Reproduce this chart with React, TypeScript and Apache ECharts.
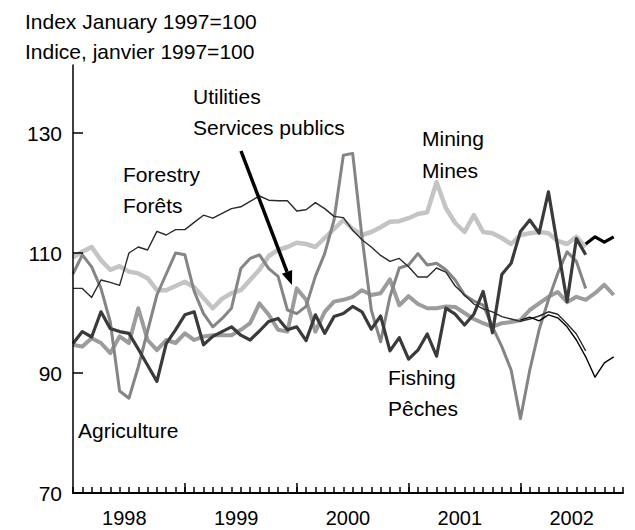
import React, { useEffect, useRef } from "react";
import * as echarts from "echarts";

// Categories: monthly, January 1998 to December 2002
const years = ["1998", "1999", "2000", "2001", "2002"];
const monthNames = ["Jan", "Feb", "Mar", "Apr", "May", "Jun", "Jul", "Aug", "Sep", "Oct", "Nov", "Dec"];
const months: string[] = [];
for (const y of years) for (const m of monthNames) months.push(m + " " + y);

// Y tick labels
const yTicks = [70, 90, 110, 130];

// Series values (Index January 1997 = 100)
const mining = [109.3, 110.2, 111, 108.8, 107.2, 107.8, 106.9, 106.6, 105.8, 103.8,
  103.8, 104.5, 105.2, 104.3, 102.5, 100.8, 102.4, 103.3, 103.8, 105.5,
  107.2, 109.5, 110.5, 111, 111.7, 111.5, 111, 112.5, 114, 115.5,
  114, 113, 113.5, 114.3, 115.2, 115.3, 115.8, 116.5, 116.8, 121.8,
  117.5, 115, 113.5, 116.3, 113.5, 113.3, 112.5, 111.5, 113, 113.3,
  113.5, 113.3, 112, 111.5, 112.7, 111];

const agriculture = [94.7, 94.4, 95.8, 95, 93.3, 96.1, 95, 100.8, 95.5, 93.8,
  95.5, 95, 96.6, 95.5, 96.1, 96.3, 96.3, 96.3, 97.2, 98.3,
  101.6, 99.7, 97.2, 96.9, 104.1, 102.2, 96.9, 100.2, 101.9, 102.2,
  102.7, 103.8, 103, 103.3, 105.6, 101.3, 102.8, 101.5, 100.8, 100.8,
  101.1, 101, 100, 99, 98.3, 97.7, 98.3, 98.5, 98.8, 100.5,
  101.6, 102.7, 103.5, 101.8, 102.7, 102.2, 103.3, 104.7, 103];

const fishing = [106.5, 109.7, 107.7, 104.1, 98.5, 87, 85.8, 91, 97, 103,
  106.5, 110, 109.7, 103.6, 99.9, 97.7, 99.1, 100.8, 107.4, 109.1,
  109.7, 107.4, 106.1, 100.5, 99.9, 101.1, 106.1, 109.9, 115.5, 126.3,
  126.6, 112.7, 100.5, 95.2, 102.7, 107.5, 108, 109.9, 108, 108.3,
  107.2, 105.5, 103, 102, 101.3, 97.7, 94.4, 90.5, 82.4, 90.5,
  97.2, 102.2, 106.6, 110.2, 108.6, 104.1];

const utilities = [94.9, 96.9, 96, 100.2, 97.4, 96.9, 96.6, 94, 91.3, 88.6,
  94.9, 97.2, 99.7, 100.2, 94.7, 96.1, 96.9, 97.7, 96.3, 95.5,
  97, 98.6, 99.1, 97.2, 97.7, 95.4, 99.7, 96.6, 99.4, 99.9,
  101.1, 100.2, 97.3, 99.5, 93.7, 95.9, 92.3, 93.8, 96.5, 92.8,
  100.8, 99.8, 98, 99.8, 103.6, 96.7, 106.4, 108.3, 113.6, 115.5,
  113.3, 120.2, 111, 101.9, 112.4, 109.7];

const forestry = [104.1, 104.1, 102.6, 105.5, 105.1, 104.6, 110, 111, 110.5, 113.6,
  113, 113.9, 113.9, 115.1, 116.3, 115.8, 116.6, 117.4, 117.7, 118.6,
  119.5, 118.8, 118.7, 118.7, 117, 117.2, 118.4, 117.4, 116.1, 115.9,
  113.8, 112.2, 111, 109.6, 108.6, 109.1, 107.7, 106, 106, 107.5,
  106.8, 104.5, 103, 101.5, 100.7, 100.2, 99.4, 99, 98.6, 99,
  99.5, 100.2, 99.8, 98.2, 96.5, 93.7];

// Latest segments drawn in black
const forestryLatestStart = 48;
const forestryLatest = [98.8, 99.3, 98.7, 99.7, 99.2, 97.7, 95.5, 92.7, 89.3, 91.7, 92.7];
const utilitiesLatestStart = 55;
const utilitiesLatest = [111.5, 112.7, 111.8, 112.7];

function pad(start: number, vals: number[]): (number | null)[] {
  const out: (number | null)[] = [];
  for (let i = 0; i < months.length; i++) {
    const k = i - start;
    out.push(k >= 0 && k < vals.length ? vals[k] : null);
  }
  return out;
}

const FONT = '"Liberation Sans", Arial, Helvetica, sans-serif';

export default function App() {
  const ref = useRef<HTMLDivElement>(null);
  useEffect(() => {
    if (!ref.current) return;
    const chart = echarts.init(ref.current, undefined, { renderer: "svg" });
    const line = (name: string, data: (number | null)[], color: string, width: number, z: number) => ({
      name,
      type: "line",
      xAxisIndex: 0,
      data,
      symbol: "none",
      connectNulls: false,
      z,
      lineStyle: { color, width, join: "round" },
      emphasis: { disabled: true },
    });
    const yearCenters = years.map((_, i) => i * 12 + 5.5);
    const yearStarts = years.slice(1).map((_, i) => (i + 1) * 12);
    const txt = (text: string, x: number, y: number) => ({
      type: "text",
      x,
      y,
      z: 100,
      style: { text, fill: "#000", font: `21px ${FONT}`, align: "left", verticalAlign: "middle" },
    });
    // arrow geometry (annotation)
    const tip = [292, 285];
    const start = [241, 151];
    const dx = tip[0] - start[0], dy = tip[1] - start[1];
    const len = Math.sqrt(dx * dx + dy * dy);
    const ux = dx / len, uy = dy / len;
    const base = [tip[0] - 14 * ux, tip[1] - 14 * uy];
    const px = -uy * 5.5, py = ux * 5.5;

    chart.setOption({
      animation: false,
      backgroundColor: "#fff",
      grid: { left: 73, right: 12, top: 65, bottom: 37, containLabel: false, outerBoundsMode: "none" },
      xAxis: [
        {
          type: "category",
          data: months,
          boundaryGap: false,
          z: 10,
          axisLine: { lineStyle: { color: "#000", width: 2 } },
          axisTick: { show: true, interval: 0, inside: true, length: 6, lineStyle: { color: "#000", width: 1.5 } },
          axisLabel: { show: false },
          splitLine: { show: false },
        },
        {
          type: "value",
          min: 0,
          max: months.length - 1,
          position: "bottom",
          z: 11,
          axisLine: { show: false },
          splitLine: { show: false },
          axisTick: { show: true, inside: true, length: 10, customValues: yearStarts, lineStyle: { color: "#000", width: 1.5 } },
          axisLabel: {
            show: true,
            customValues: yearCenters,
            margin: 17,
            lineHeight: 16,
            color: "#000",
            fontSize: 20,
            fontFamily: FONT,
            formatter: (v: number) => years[Math.floor(v / 12)] ?? "",
          },
        },
      ],
      yAxis: {
        type: "value",
        min: 70,
        max: 70 + 428 / 6,
        z: 10,
        axisLine: { show: true, lineStyle: { color: "#000", width: 1.5 } },
        axisTick: { show: true, inside: true, length: 10, customValues: [90, 110, 130], lineStyle: { color: "#000", width: 1.5 } },
        axisLabel: { customValues: yTicks, margin: 11, color: "#000", fontSize: 21, fontFamily: FONT },
        splitLine: { show: false },
      },
      series: [
        line("Mining", mining, "#c4c4c4", 4.5, 1),
        line("Agriculture", agriculture, "#9c9c9c", 4, 2),
        line("Fishing", fishing, "#858585", 3, 3),
        line("Utilities", utilities, "#3a3a3a", 3.2, 4),
        line("Forestry", forestry, "#2a2a2a", 1.4, 5),
        line("Forestry latest", pad(forestryLatestStart, forestryLatest), "#000", 1.4, 6),
        line("Utilities latest", pad(utilitiesLatestStart, utilitiesLatest), "#000", 3.2, 6),
      ],
      graphic: [
        txt("Index January 1997=100", 25, 21),
        txt("Indice, janvier 1997=100", 25, 51),
        txt("Utilities", 193, 96),
        txt("Services publics", 193, 127),
        txt("Forestry", 123, 174),
        txt("Forêts", 123, 205),
        txt("Mining", 422, 138),
        txt("Mines", 422, 170),
        txt("Fishing", 388, 377),
        txt("Pêches", 388, 408),
        txt("Agriculture", 78, 430),
        {
          type: "line",
          z: 100,
          shape: { x1: start[0], y1: start[1], x2: base[0], y2: base[1] },
          style: { stroke: "#000", lineWidth: 3.5 },
        },
        {
          type: "polygon",
          z: 100,
          shape: { points: [tip, [base[0] + px, base[1] + py], [base[0] - px, base[1] - py]] },
          style: { fill: "#000" },
        },
      ],
    });
    return () => chart.dispose();
  }, []);
  return <div ref={ref} style={{ position: "fixed", left: 0, top: 0, width: 635, height: 530 }} />;
}
